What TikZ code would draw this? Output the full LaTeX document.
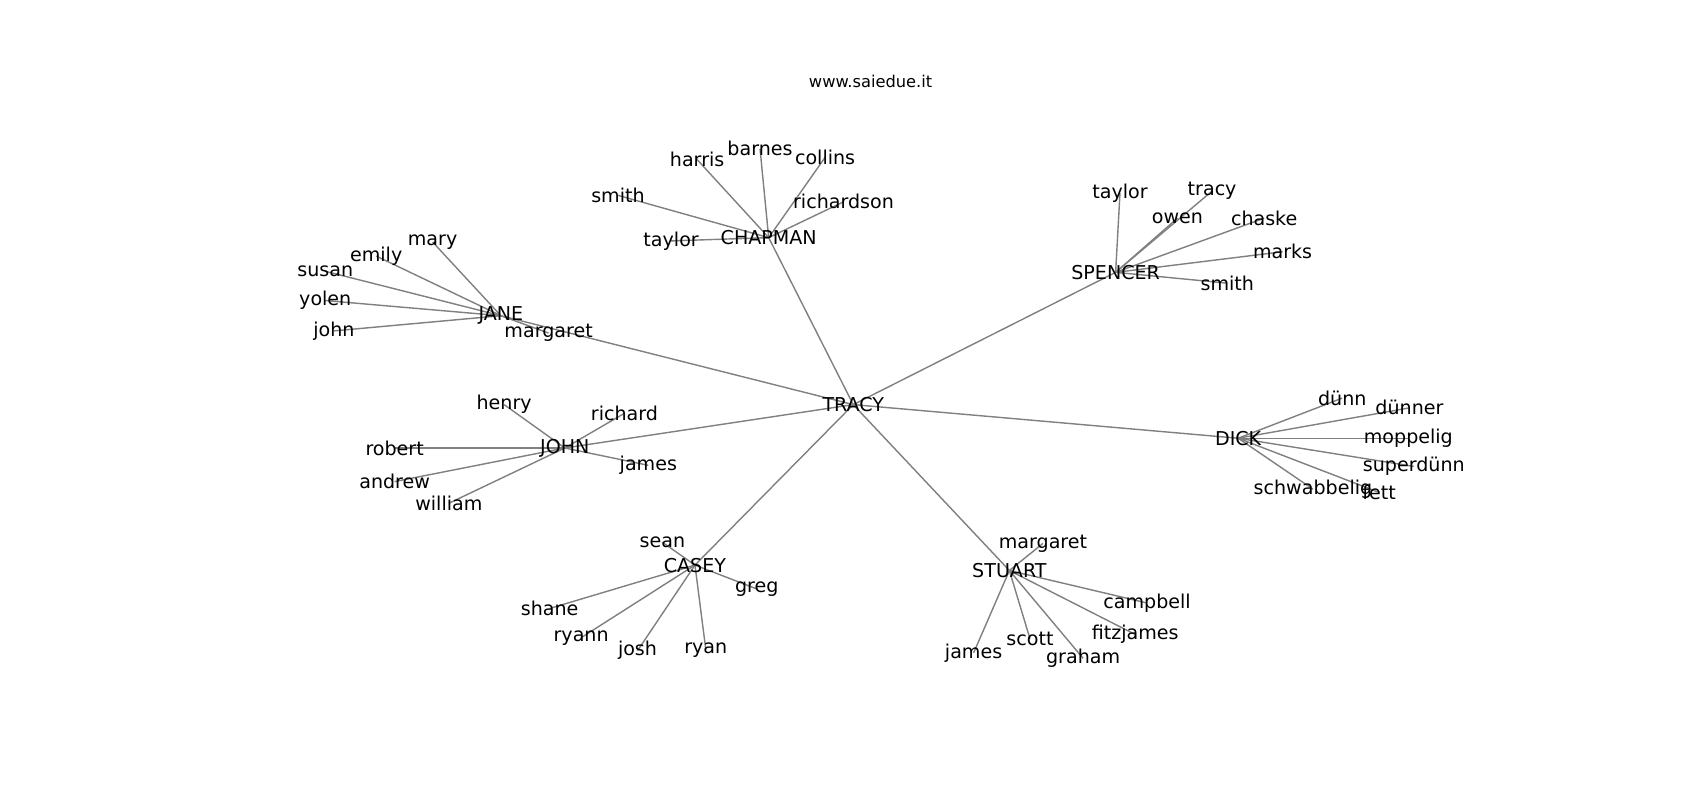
\documentclass[tikz,border=0pt]{standalone}
\usepackage{fontspec}
\setmainfont{DejaVu Sans}
\usetikzlibrary{backgrounds}

\tikzset{
  lbl/.style={font=\fontsize{17.6}{20}\selectfont, inner sep=0pt, yshift=-1.2pt},
  link/.style={draw=gray, line width=1.3pt},
}

\begin{document}
\begin{tikzpicture}[x=1pt,y=-1pt]
  \useasboundingbox (0,0) rectangle (1568,738);
  \node[font=\fontsize{15}{18}\selectfont, inner sep=0pt] (title) at (803,75) {www.saiedue.it};

  % centre and the families
  \node[lbl] (tracy) at (787,372) {TRACY};
  \node[lbl] (chapman) at (709,218) {CHAPMAN};
  \node[lbl] (jane) at (462,290) {JANE};
  \node[lbl] (spencer) at (1029,250) {SPENCER};
  \node[lbl] (john) at (521,412) {JOHN};
  \node[lbl] (dick) at (1142,403) {DICK};
  \node[lbl] (casey) at (641,520) {CASEY};
  \node[lbl] (stuart) at (931,525) {STUART};

  % jane
  \node[lbl] (mary) at (399,222) {mary};
  \node[lbl] (emily) at (347,235) {emily};
  \node[lbl] (susan) at (300,249) {susan};
  \node[lbl] (yolen) at (300,276) {yolen};
  \node[lbl] (ja-john) at (308,304) {john};
  \node[lbl] (ja-margaret) at (506,306) {margaret};

  % chapman
  \node[lbl] (ch-smith) at (570,179) {smith};
  \node[lbl] (harris) at (643,146) {harris};
  \node[lbl] (barnes) at (701,136) {barnes};
  \node[lbl] (collins) at (761,144) {collins};
  \node[lbl] (richardson) at (778,185) {richardson};
  \node[lbl] (ch-taylor) at (619,221) {taylor};

  % spencer
  \node[lbl] (sp-taylor) at (1033,177) {taylor};
  \node[lbl] (sp-tracy) at (1118,175) {tracy};
  \node[lbl] (owen) at (1086,200) {owen};
  \node[lbl] (chaske) at (1166,200) {chaske};
  \node[lbl] (marks) at (1183,231) {marks};
  \node[lbl] (sp-smith) at (1132,260) {smith};

  % dick
  \node[lbl] (duenn) at (1238,366) {dünn};
  \node[lbl] (duenner) at (1300,375) {dünner};
  \node[lbl] (moppelig) at (1299,403) {moppelig};
  \node[lbl] (superduenn) at (1304,429) {superdünn};
  \node[lbl] (schwabbelig) at (1211,450) {schwabbelig};
  \node[lbl] (fett) at (1272,453) {fett};

  % john
  \node[lbl] (henry) at (465,372) {henry};
  \node[lbl] (richard) at (576,380) {richard};
  \node[lbl] (robert) at (364,412) {robert};
  \node[lbl] (andrew) at (364,443) {andrew};
  \node[lbl] (william) at (414,463) {william};
  \node[lbl] (jo-james) at (598,428) {james};

  % casey
  \node[lbl] (sean) at (611,499) {sean};
  \node[lbl] (greg) at (698,542) {greg};
  \node[lbl] (shane) at (507,560) {shane};
  \node[lbl] (ryann) at (536,587) {ryann};
  \node[lbl] (josh) at (588,599) {josh};
  \node[lbl] (ryan) at (651,598) {ryan};

  % stuart
  \node[lbl] (st-margaret) at (962,500) {margaret};
  \node[lbl] (campbell) at (1058,555) {campbell};
  \node[lbl] (fitzjames) at (1047,584) {fitzjames};
  \node[lbl] (graham) at (999,606) {graham};
  \node[lbl] (scott) at (950,588) {scott};
  \node[lbl] (st-james) at (898,601) {james};

  \begin{scope}[on background layer]
    \foreach \a/\b in {tracy/chapman, tracy/jane, tracy/spencer, tracy/john,
        tracy/dick, tracy/casey, tracy/stuart,
        jane/mary, jane/emily, jane/susan, jane/yolen, jane/ja-john, jane/ja-margaret,
        chapman/ch-smith, chapman/harris, chapman/barnes, chapman/collins,
        chapman/richardson, chapman/ch-taylor,
        spencer/sp-taylor, spencer/sp-tracy, spencer/owen, spencer/chaske,
        spencer/marks, spencer/sp-smith,
        dick/duenn, dick/duenner, dick/moppelig, dick/superduenn,
        dick/schwabbelig, dick/fett,
        john/henry, john/richard, john/robert, john/andrew, john/william, john/jo-james,
        casey/sean, casey/greg, casey/shane, casey/ryann, casey/josh, casey/ryan,
        stuart/st-margaret, stuart/campbell, stuart/fitzjames, stuart/graham,
        stuart/scott, stuart/st-james}
      \draw[link] (\a.center) -- (\b.center);
  \end{scope}
\end{tikzpicture}
\end{document}
